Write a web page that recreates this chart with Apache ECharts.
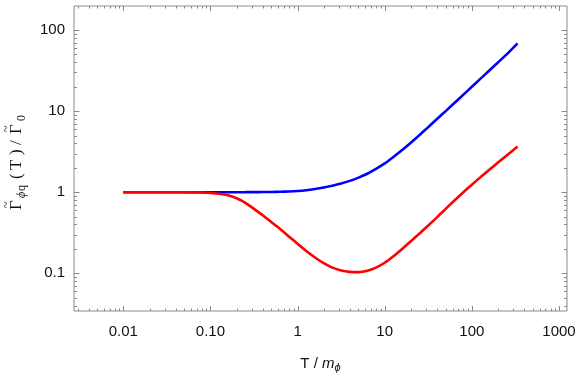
<!DOCTYPE html>
<html><head><meta charset="utf-8">
<script src="https://cdn.jsdelivr.net/npm/echarts@6/dist/echarts.min.js"></script>
<style>html,body{margin:0;padding:0;background:#fff}#c{width:581px;height:378px}</style>
</head><body><div id="c"></div><script>
// Temperature T / m_phi (shared x values)
const T = [0.01, 0.01995, 0.03981, 0.0631, 0.07943, 0.1, 0.1259, 0.1585, 0.1995, 0.2512, 0.3162, 0.3981, 0.5012, 0.631, 0.7943,
  1, 1.259, 1.585, 1.995, 2.512, 3.162, 3.981, 5.012, 6.31, 7.943,
  10, 12.59, 15.85, 19.95, 25.12, 31.62, 39.81, 50.12, 63.1, 79.43,
  100, 125.9, 158.5, 199.5, 251.2, 335];
// Blue curve
const blueVals = [1, 1, 1, 1, 1, 1, 1, 1, 1.0005, 1.001, 1.002, 1.0046, 1.007, 1.0116, 1.021,
  1.035, 1.059, 1.096, 1.143, 1.202, 1.279, 1.38, 1.514, 1.69, 1.936,
  2.265, 2.723, 3.311, 4.074, 5.07, 6.353, 7.98, 10.0, 12.59, 15.85,
  19.95, 25.12, 31.62, 39.81, 50.12, 68.5];
// Red curve
const redVals = [1, 1, 0.999, 0.9954, 0.991, 0.977, 0.955, 0.916, 0.841, 0.741, 0.624, 0.519, 0.427, 0.351, 0.285,
  0.2317, 0.1884, 0.1567, 0.1334, 0.1175, 0.1084, 0.1042, 0.1033, 0.1072, 0.1175,
  0.1349, 0.1622, 0.1995, 0.2483, 0.309, 0.389, 0.49, 0.624, 0.791, 0.9931,
  1.239, 1.535, 1.892, 2.323, 2.844, 3.656];

const xMajor = [0.01, 0.1, 1, 10, 100, 1000];
const xMajorLabels = ['0.01', '0.10', '1', '10', '100', '1000'];
const yMajor = [0.1, 1, 10, 100];
const yMajorLabels = ['0.1', '1', '10', '100'];
const xRange = [0.00272, 1236];
const yRange = [0.0343, 197.7];

function minorTicks(decades, range) {
  const out = [];
  decades.forEach(d => { for (let k = 2; k <= 9; k++) { const v = k * d; if (v > range[0] && v < range[1]) out.push(v); } });
  return out;
}
const xMinor = minorTicks([0.001, 0.01, 0.1, 1, 10, 100, 1000], xRange);
const yMinor = minorTicks([0.01, 0.1, 1, 10, 100], yRange);

function lab(v, majors, labels) {
  for (let i = 0; i < majors.length; i++) if (Math.abs(Math.log10(v) - Math.log10(majors[i])) < 1e-6) return labels[i];
  return '';
}

const frameColor = '#8a8a8a';
const txt = '#111';
const xTickData = xMajor.filter(v => v > xRange[0] && v < xRange[1]).map(v => [v, 1, 1]).concat(xMinor.map(v => [v, 1, 0]));
const yTickData = yMajor.map(v => [1, v, 1]).concat(yMinor.map(v => [1, v, 0]));

function t(str, x, y, size, italic) {
  return {type: 'text', x: x, y: y, silent: true,
    style: {text: str, fill: txt, font: (italic ? 'italic ' : '') + size + 'px "Liberation Serif"', textAlign: 'left', textVerticalAlign: 'middle'}};
}

const chart = echarts.init(document.getElementById('c'), null, {renderer: 'canvas'});
chart.setOption({
  animation: false,
  backgroundColor: '#fff',
  grid: {left: 74, right: 14, top: 6, bottom: 67, show: true, borderColor: frameColor, borderWidth: 1, backgroundColor: 'transparent'},
  graphic: [{
    type: 'group', x: 17, y: 210, rotation: Math.PI / 2, silent: true,
    children: [
      t('Γ', 0, 0, 17), t('~', 1.5, -10, 13),
      t('ϕ', 12, 5, 12, true), t('q', 19, 5, 12),
      t('(', 31, 0, 17), t('T', 40, 0, 17), t(')', 55, 0, 17), t('/', 65, 0, 17),
      t('Γ', 76, 0, 17), t('~', 77.5, -10, 13),
      t('0', 89, 5, 12)
    ]
  }],
  xAxis: {
    type: 'log', logBase: 10, min: xRange[0], max: xRange[1],
    axisLine: {show: false}, axisTick: {show: false}, splitLine: {show: false}, minorTick: {show: false},
    axisLabel: {formatter: v => lab(v, xMajor, xMajorLabels), showMinLabel: false, showMaxLabel: false, margin: 13,
      fontFamily: 'Liberation Sans', fontSize: 15, color: txt},
    name: '{t|T / }{m|m}{s|ϕ}', nameLocation: 'middle', nameGap: 44,
    nameTextStyle: {rich: {
      t: {fontFamily: 'Liberation Sans', fontSize: 15, color: txt, lineHeight: 18, verticalAlign: 'middle'},
      m: {fontFamily: 'Liberation Sans', fontStyle: 'italic', fontSize: 15, color: txt, lineHeight: 18, verticalAlign: 'middle'},
      s: {fontFamily: 'Liberation Sans', fontStyle: 'italic', fontSize: 11, color: txt, lineHeight: 8, verticalAlign: 'bottom'}
    }}
  },
  yAxis: {
    type: 'log', logBase: 10, min: yRange[0], max: yRange[1],
    axisLine: {show: false}, axisTick: {show: false}, splitLine: {show: false}, minorTick: {show: false},
    axisLabel: {formatter: v => lab(v, yMajor, yMajorLabels), showMinLabel: false, showMaxLabel: false, margin: 9,
      fontFamily: 'Liberation Sans', fontSize: 15, color: txt}
  },
  series: [
    {type: 'line', data: T.map((t, i) => [t, blueVals[i]]), smooth: 0.2, showSymbol: false, symbol: 'none',
      lineStyle: {color: '#0000ff', width: 2.6}, itemStyle: {color: '#0000ff'}, z: 3},
    {type: 'line', data: T.map((t, i) => [t, redVals[i]]), smooth: 0.2, showSymbol: false, symbol: 'none',
      lineStyle: {color: '#ff0000', width: 2.6}, itemStyle: {color: '#ff0000'}, z: 4},
    {type: 'custom', data: xTickData, encode: {x: 0, y: 1}, clip: false, silent: true, z: 5,
      renderItem: function (params, api) {
        const cs = params.coordSys;
        const x = Math.round(api.coord([api.value(0), 1])[0]) + 0.5;
        const len = api.value(2) ? 5 : 2.5;
        const st = {stroke: frameColor, lineWidth: 1};
        return {type: 'group', children: [
          {type: 'line', shape: {x1: x, y1: cs.y + cs.height, x2: x, y2: cs.y + cs.height - len}, style: st},
          {type: 'line', shape: {x1: x, y1: cs.y, x2: x, y2: cs.y + len}, style: st}
        ]};
      }},
    {type: 'custom', data: yTickData, encode: {x: 0, y: 1}, clip: false, silent: true, z: 5,
      renderItem: function (params, api) {
        const cs = params.coordSys;
        const y = Math.round(api.coord([1, api.value(1)])[1]) + 0.5;
        const len = api.value(2) ? 5.5 : 3;
        const st = {stroke: frameColor, lineWidth: 1};
        return {type: 'group', children: [
          {type: 'line', shape: {x1: cs.x, y1: y, x2: cs.x + len, y2: y}, style: st},
          {type: 'line', shape: {x1: cs.x + cs.width, y1: y, x2: cs.x + cs.width - len, y2: y}, style: st}
        ]};
      }}
  ]
});
</script></body></html>
